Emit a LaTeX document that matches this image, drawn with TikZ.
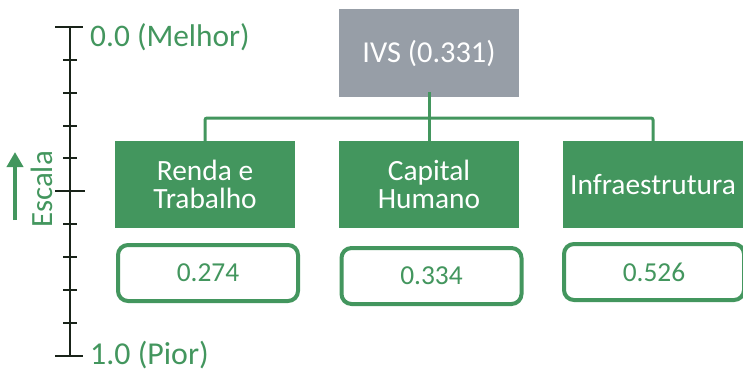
\documentclass[tikz,border=0pt]{standalone}
\usepackage{fontspec}
\setmainfont{Carlito}
\usetikzlibrary{arrows.meta}
\definecolor{gr}{RGB}{67,150,94}
\definecolor{gy}{RGB}{151,158,167}
\definecolor{ax}{RGB}{25,35,25}
\begin{document}
\begin{tikzpicture}[x=1bp,y=-1bp,
  topbox/.style={fill=gy, text=white, minimum width=180bp, minimum height=88bp, inner sep=0pt,
    font=\fontsize{30.5}{32}\selectfont},
  catbox/.style={fill=gr, text=white, minimum width=180bp, minimum height=87bp, inner sep=0pt,
    align=center, font=\fontsize{29.5}{28}\selectfont},
  valbox/.style={draw=gr, line width=4bp, rounded corners=10bp, fill=white, text=gr,
    minimum width=180bp, minimum height=56bp, inner sep=0pt, font=\fontsize{27.5}{28}\selectfont},
  link/.style={draw=gr, line width=3bp, rounded corners=2bp},
  axisline/.style={draw=ax, line width=2bp},
  scalelabel/.style={text=gr, inner sep=0pt}]
\useasboundingbox (0,0) rectangle (743,371);
% scale axis
\draw[axisline] (70,27) -- (70,356);
\foreach \yy in {60,93,126,158,224,257,290,323} \draw[axisline] (63,\yy) -- (77,\yy);
\draw[axisline] (55,27) -- (83,27);
\draw[axisline] (55,191) -- (85,191);
\draw[axisline] (55,356) -- (83,356);
\node[scalelabel, anchor=base west, font=\fontsize{31.5}{32}\selectfont] (best) at (90,46) {0.0 (Melhor)};
\node[scalelabel, anchor=base west, font=\fontsize{32}{32}\selectfont] (worst) at (90,364) {1.0 (Pior)};
\node[scalelabel, anchor=base, rotate=90, font=\fontsize{31}{32}\selectfont] (esc) at (52,189.5) {Escala};
\coordinate (arrs) at (15,220);
\coordinate (arre) at (15,152);
\draw[gr, line width=4bp, -{Triangle[length=15bp,width=16bp]}] (arrs) -- (arre);
% tree
\node[topbox] (ivs) at (429,53) {IVS (0.331)};
\node[catbox] (rt) at (205,184.5) {Renda e\\Trabalho};
\node[catbox] (ch) at (429,184.5) {Capital\\Humano};
\node[catbox] (inf) at (653,184.5) {Infraestrutura};
\node[valbox] (v1) at (208,273) {0.274};
\node[valbox] (v2) at (431.5,276) {0.334};
\node[valbox] (v3) at (654,272) {0.526};
\coordinate (j) at (429,118);
\draw[link] ([yshift=5bp]ivs.south) -- ([yshift=-6bp]ch.north);
\draw[link] ([yshift=-6bp]rt.north) |- (j) -| ([yshift=-6bp]inf.north);
\end{tikzpicture}
\end{document}
